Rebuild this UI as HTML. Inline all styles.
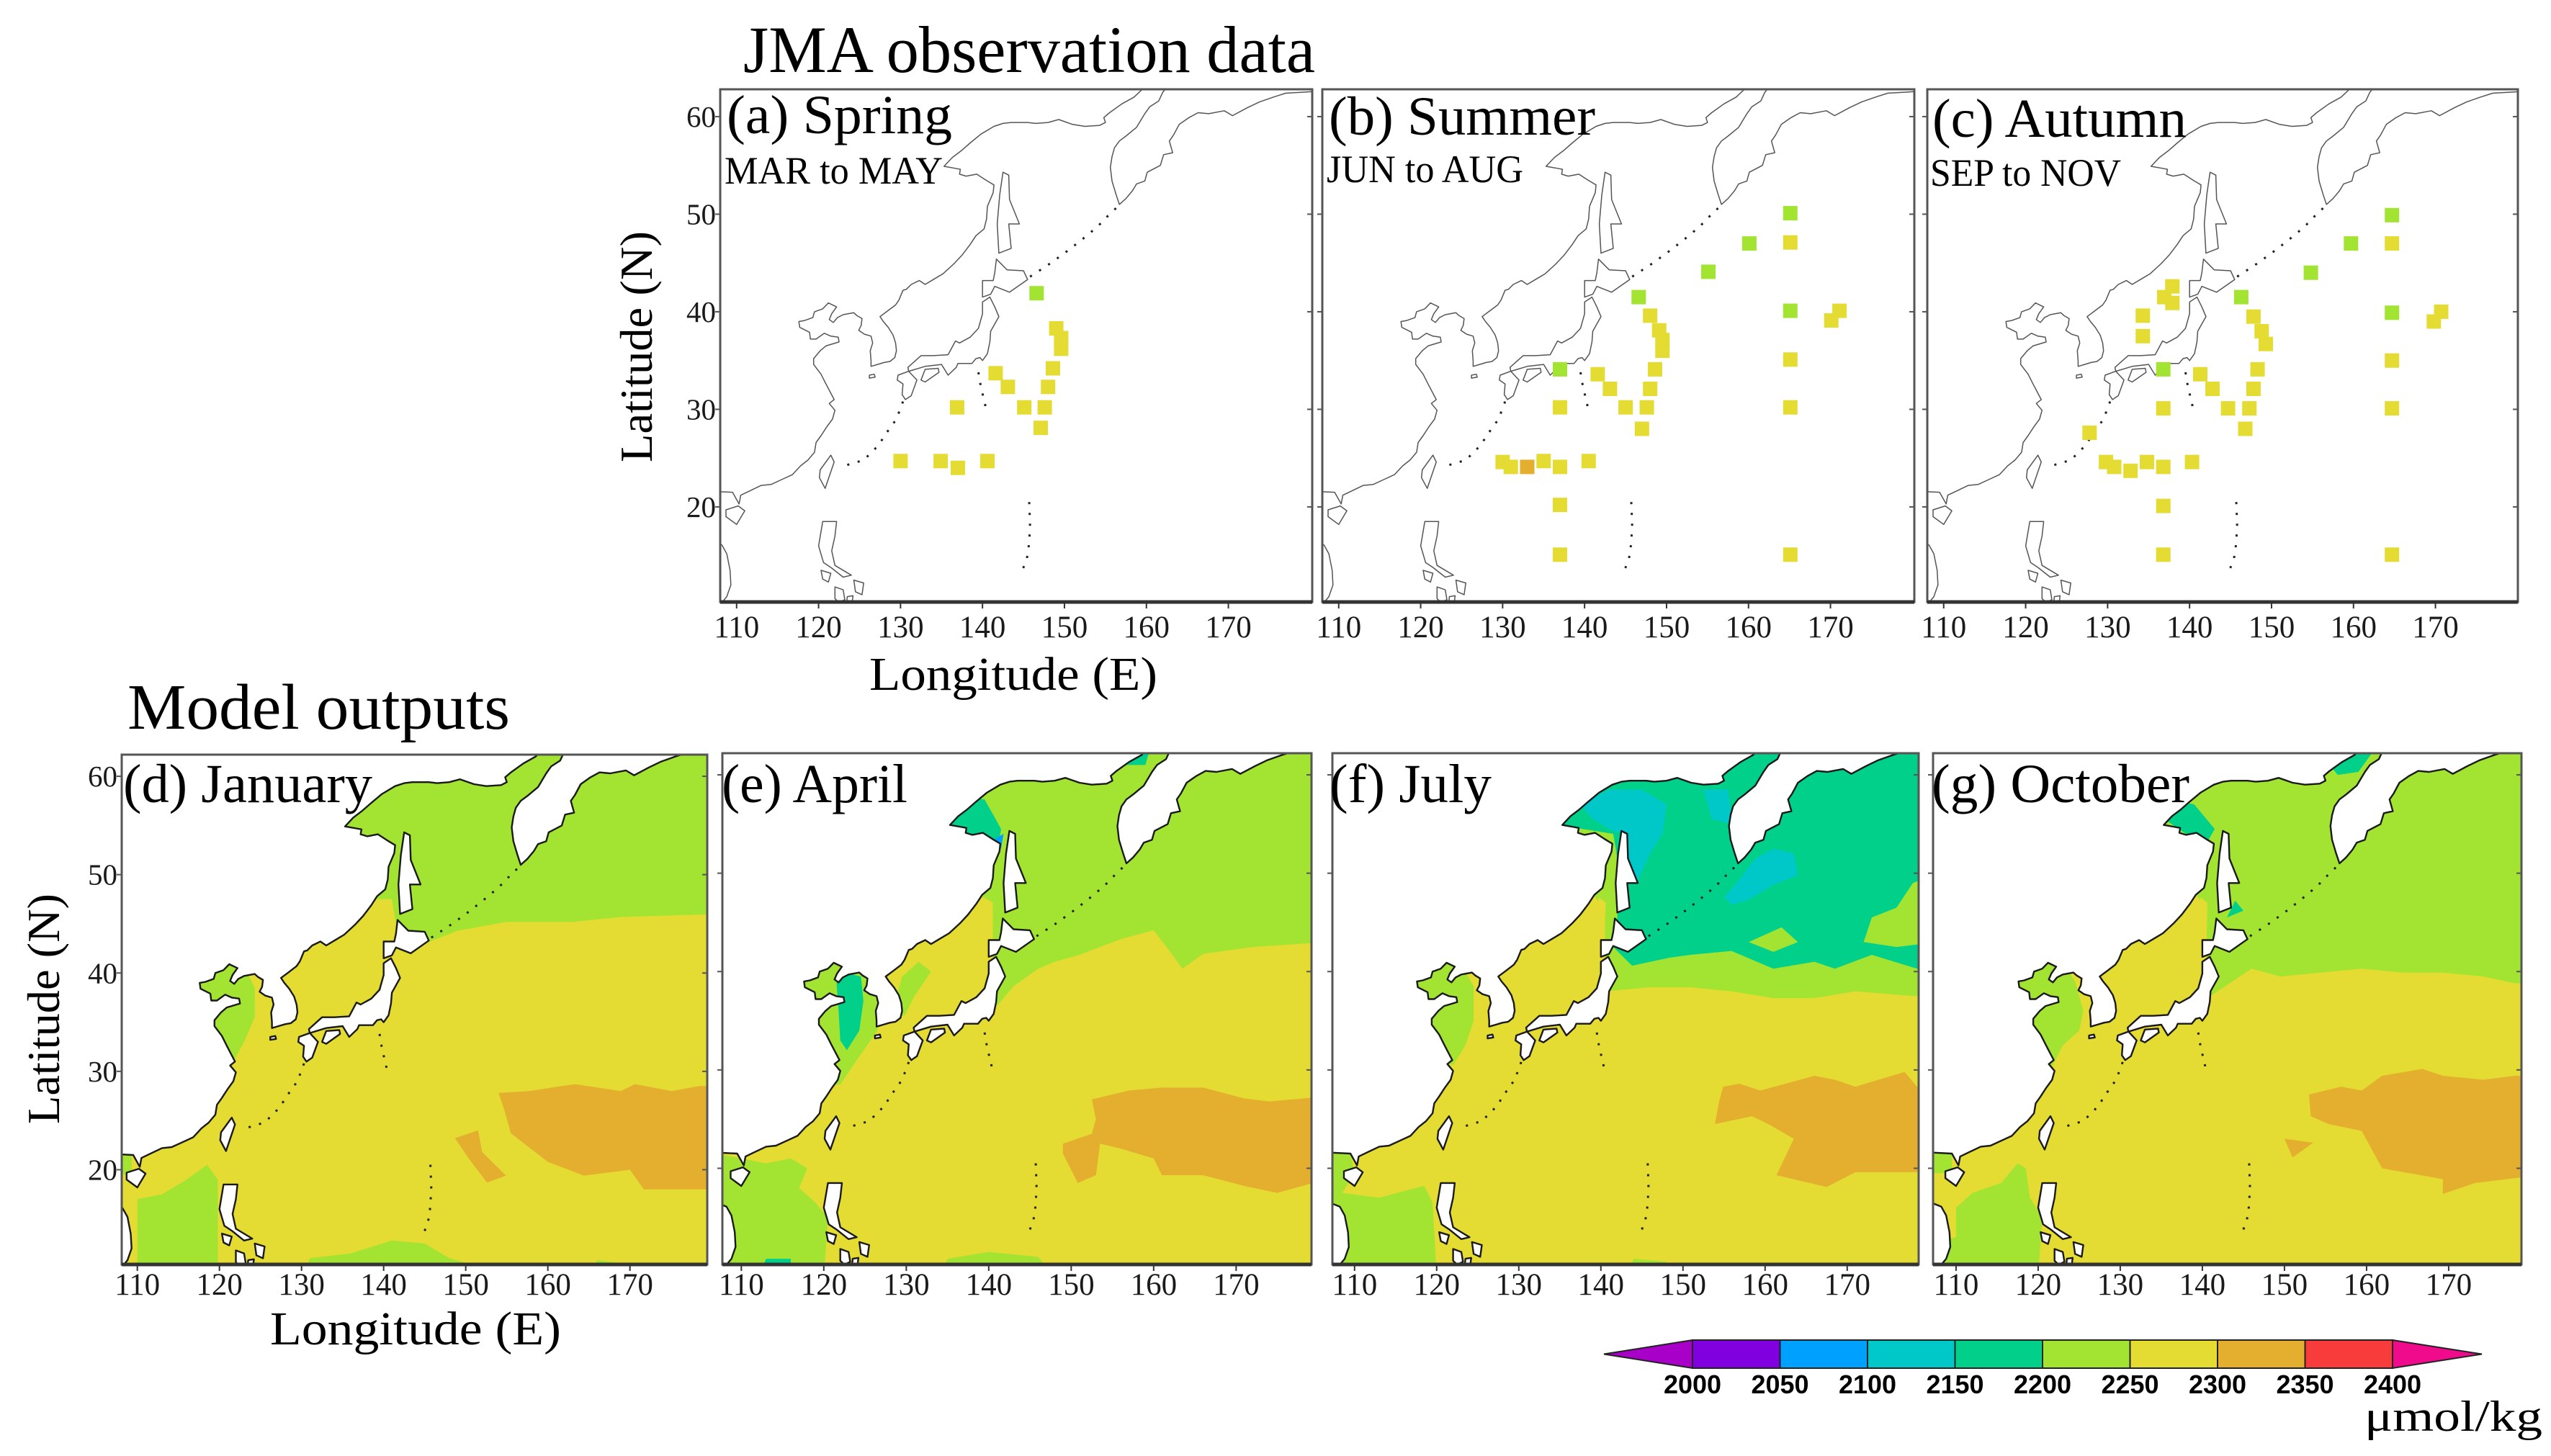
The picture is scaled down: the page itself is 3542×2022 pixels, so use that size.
<!DOCTYPE html>
<html><head><meta charset="utf-8"><title>JMA observation vs Model outputs</title>
<style>html,body{margin:0;padding:0;background:#fff}svg{display:block}</style></head>
<body>
<svg id="fig" width="3542" height="2022" viewBox="0 0 3542 2022" font-family="'Liberation Serif', serif">
<rect x="0" y="0" width="3542" height="2022" fill="#fff"/>
<text x="1032" y="100" font-size="92" textLength="794" lengthAdjust="spacingAndGlyphs">JMA observation data</text>
<text x="177" y="1012" font-size="90" textLength="531" lengthAdjust="spacingAndGlyphs">Model outputs</text>
<text x="1207" y="958" font-size="66" textLength="400" lengthAdjust="spacingAndGlyphs">Longitude (E)</text>
<text x="375" y="1867" font-size="66" textLength="404" lengthAdjust="spacingAndGlyphs">Longitude (E)</text>
<text transform="translate(905,642) rotate(-90)" font-size="64" textLength="321" lengthAdjust="spacingAndGlyphs">Latitude (N)</text>
<text transform="translate(82,1561) rotate(-90)" font-size="64" textLength="320" lengthAdjust="spacingAndGlyphs">Latitude (N)</text>
<g id="maps"></g>
<g id="cbar"></g>
<text x="3283" y="1987" font-size="60" textLength="247" lengthAdjust="spacingAndGlyphs">μmol/kg</text>
</svg>
<script>
// ---- colour scale data ----
const levels = [2000, 2050, 2100, 2150, 2200, 2250, 2300, 2350, 2400];
const levelColors = ["#8000e0", "#00a0ff", "#00c8c8", "#00d08a", "#a3e432", "#e4db33", "#e4ae2e", "#f83c3c"];
const lowColor = "#a800c8";
const highColor = "#f00a8c";

// ---- observation data (lon, lat, value) ----
const springLon = [146.6, 149.0, 149.6, 149.6, 148.6, 148.0, 147.6, 147.1, 145.1, 143.1, 141.6, 136.9, 130.0, 134.9, 137.0, 140.6];
const springLat = [41.9, 38.3, 37.3, 36.2, 34.2, 32.3, 30.2, 28.1, 30.2, 32.3, 33.7, 30.2, 24.7, 24.7, 24.0, 24.7];
const springVal = [2225, 2275, 2275, 2275, 2275, 2275, 2275, 2275, 2275, 2275, 2275, 2275, 2275, 2275, 2275, 2275];

const summerLon = [165.1, 160.1, 165.1, 155.1, 146.6, 165.1, 170.1, 171.1, 148.0, 149.1, 149.5, 149.5, 148.6, 148.0, 147.6, 147.0, 145.0, 143.1, 141.6, 137.0, 137.0, 165.1, 165.1, 130.0, 131.0, 133.0, 135.0, 137.0, 140.5, 137.0, 137.0, 165.1];
const summerLat = [50.1, 47.0, 47.1, 44.1, 41.5, 40.1, 39.1, 40.1, 39.6, 38.1, 37.1, 36.0, 34.1, 32.1, 30.2, 28.0, 30.2, 32.1, 33.6, 34.1, 30.2, 35.1, 30.2, 24.6, 24.1, 24.1, 24.7, 24.1, 24.7, 20.2, 15.1, 15.1];
const summerVal = [2225, 2225, 2275, 2225, 2225, 2225, 2275, 2275, 2275, 2275, 2275, 2275, 2275, 2275, 2275, 2275, 2275, 2275, 2275, 2225, 2275, 2275, 2275, 2275, 2275, 2325, 2275, 2275, 2275, 2275, 2275, 2275];

const autumnLon = [164.7, 159.7, 164.7, 154.8, 146.3, 164.7, 169.8, 170.7, 137.9, 136.9, 137.9, 134.3, 134.3, 147.8, 148.8, 149.3, 148.3, 147.8, 147.3, 146.8, 136.8, 141.3, 142.8, 144.7, 136.8, 164.7, 164.7, 127.8, 129.8, 130.8, 132.8, 134.8, 136.8, 140.3, 136.8, 136.8, 164.7];
const autumnLat = [49.9, 47.0, 47.0, 44.0, 41.5, 39.9, 39.0, 40.0, 42.6, 41.5, 40.9, 39.6, 37.5, 39.5, 38.0, 36.7, 34.1, 32.1, 30.1, 28.0, 34.1, 33.6, 32.1, 30.1, 30.1, 35.0, 30.1, 27.6, 24.6, 24.1, 23.7, 24.6, 24.1, 24.6, 20.1, 15.1, 15.1];
const autumnVal = [2225, 2225, 2275, 2225, 2225, 2225, 2275, 2275, 2275, 2275, 2275, 2275, 2275, 2275, 2275, 2275, 2275, 2275, 2275, 2275, 2225, 2275, 2275, 2275, 2275, 2275, 2275, 2275, 2275, 2275, 2285, 2275, 2275, 2275, 2275, 2275, 2275];

// ---- axis ticks ----
const lonTicks = [110, 120, 130, 140, 150, 160, 170];
const latTicks = [20, 30, 40, 50, 60];

// ---- model field regions: [value, polygon(lon,lat)] ----
const fieldJan = [
 [2225, [[130,64],[130,47.5],[141,47.5],[141.5,45],[145,43],[149,44.3],[155,45.2],[163,45.2],[169,45.7],[181,46],[181,64]]],
 [2225, [[117,41.5],[122.5,41.5],[124.3,38.5],[124.3,35.5],[123,33],[121.7,31],[120,31],[118.5,35],[117,38]]],
 [2225, [[110,17],[113,17.5],[116,19],[118.5,20.5],[119.8,19],[119.8,9],[110,9]]],
 [2225, [[107,21.6],[109.3,21.6],[109.3,19.5],[107,19.5]]],
 [2225, [[130,9],[131,11],[136,11.5],[141,12.8],[145,12.5],[148,11],[151,10.3],[152,9]]],
 [2225, [[165,9],[166,10.8],[169,10.5],[170,9]]],
 [2175, [[113,9],[113.3,10.4],[116.5,10.4],[116.5,9]]],
 [2325, [[154,27.8],[157.7,28],[163.3,28.7],[168.9,28],[170.6,28.7],[175.1,28],[178.4,28.5],[181,28.5],[181,18],[171.7,18],[170,20],[164.4,19.4],[160,20.8],[155.5,23.7],[154.7,26.1]]],
 [2325, [[148.7,23.2],[151.5,24],[152,21.8],[154.9,19.4],[152.6,18.7],[150.4,21.1]]]
];
const fieldApr = [
 [2225, [[128,64],[128,48],[139,48],[140.5,46],[140.5,42],[141,36.5],[143,38.5],[146,40.3],[148,41],[151,41.7],[156,43.3],[160,44.2],[162,42],[163.5,40.3],[166,41.8],[172,42.5],[181,43],[181,64]]],
 [2275, [[128.5,35],[129.5,37],[131,38.5],[133.5,40.5],[136,42.5],[138,44.5],[139.5,47.5],[140.5,47],[140.3,42],[139.5,38.5],[137,37],[134,35.5],[130,34]]],
 [2225, [[128.3,36],[129.5,39.5],[131.5,41],[133,40],[131,37.5],[129.8,35.5]]],
 [2225, [[117,41.5],[122.5,41.5],[125,39.5],[126.5,37],[126.5,34],[124,31],[122,28.5],[121,28.5],[118,35]]],
 [2175, [[121.5,39.3],[123,39.8],[124.5,39.5],[124.8,37],[124.3,34],[122.8,32],[122,33],[121.8,36]]],
 [2175, [[134.5,56],[137,57.8],[139.5,57.5],[141.5,54.5],[141,52],[139,53.5],[136,54.5]]],
 [2075, [[140.8,53.5],[141.8,54],[141.5,52.5]]],
 [2175, [[156,62.5],[159.5,62.5],[159,61],[156.5,61]]],
 [2225, [[107,21.5],[110,21],[113,20.5],[116,21],[118,20],[117,18],[119,16.5],[120.5,15],[120,9],[107,9]]],
 [2175, [[112.5,9.8],[113,10.8],[116,10.8],[116,9.8]]],
 [2225, [[134,9],[135,10.8],[140,11.5],[146,11],[148,9]]],
 [2325, [[152.5,27],[157,27.9],[161,28.2],[166,28.2],[171,27.1],[174,26.8],[181,27.3],[181,18.9],[175,17.5],[171,18.2],[166,19.3],[161,19.3],[160,21],[156,22],[153.5,22.5],[153,19.3],[150.8,18.5],[149,21.5],[149,22.5],[152.5,23.5],[153,25]]]
];
const fieldJul = [
 [2225, [[128,64],[128,48],[139,48],[140.5,46],[140.5,42],[140.8,38],[145.8,38.4],[150.9,38.4],[155.9,38],[161,37.3],[166,37.3],[171,38],[181,37.3],[181,64]]],
 [2275, [[128.5,35],[130.5,38.5],[133,40.7],[136,42.8],[138.5,45],[139.8,47.5],[140.6,47],[140.3,42],[139.5,38.5],[137,37],[134,35.5],[130,34]]],
 [2175, [[142,45.5],[141.8,44],[141.5,42.5],[143.8,40.6],[148.3,41.4],[150.9,41.7],[155.9,42.1],[161,40.3],[166,41],[168.5,40.3],[173,41.7],[178.5,40.3],[181,40.5],[181,64],[134,64],[134,55],[141.5,54],[142.3,50]]],
 [2225, [[172,43],[176,42.5],[181,43],[181,50],[178,49],[176,46.5],[173,45.5]]],
 [2225, [[158,43],[162,44.5],[164,43],[161,42]]],
 [2125, [[137.5,57],[141,58.5],[145,58.5],[148,57],[147.5,54],[146,52],[144.5,49.3],[143.5,51],[143,54],[141.5,54.3],[139,55.5]]],
 [2125, [[152.5,58.5],[155.5,58.5],[156,55],[153.5,55.5]]],
 [2125, [[155,47.5],[157,49.5],[158.8,51.5],[161,52.5],[163.5,52],[164,49.8],[161,48.8],[158,47.3],[156,46.8]]],
 [2225, [[117,41.5],[122.5,41.5],[124.5,38.5],[124.5,35],[123.5,32.5],[122,30.5],[120.5,31],[118,36]]],
 [2225, [[107,21.7],[109.5,21.5],[110,19.5],[108.5,17.5],[113,17],[116.5,17.8],[118.5,18.2],[119.5,16.5],[120,9],[107,9]]],
 [2225, [[143,9],[144,10.8],[148,10.5],[148,9]]],
 [2175, [[112,9],[112,10.3],[116,10.3],[116,9]]],
 [2325, [[154.9,28.3],[156.9,28.6],[159.4,27.9],[162.5,28.6],[166,29.4],[168.5,29],[171,28.3],[177,29.8],[178.5,28.3],[181,28.3],[181,19.6],[171,19.6],[167.5,18.1],[161.4,19.3],[163.5,23],[160.4,24.5],[158.4,25.3],[153.9,24.5],[154.4,26.8]]]
];
const fieldOct = [
 [2225, [[128,64],[128,48],[139,48],[140.5,46.5],[140.6,37.3],[146,40.3],[149.5,39.5],[154.4,39.9],[159.4,40.3],[164.3,39.9],[169.3,39.9],[174.2,39.5],[178.1,38.8],[181,38.8],[181,64]]],
 [2275, [[128.5,35],[131,39],[133,41],[136,43],[138.5,45],[139.8,47.5],[140.6,47],[140.5,42],[139.5,38.5],[137,37],[134,35.5],[130,34]]],
 [2175, [[134.5,56],[136,57.5],[139,57],[141.5,54.5],[140.5,53],[138,54]]],
 [2175, [[155,61.5],[158,62.6],[161,62.6],[159,60.3],[156.5,60]]],
 [2175, [[143,45.5],[145,46.2],[144,47.2]]],
 [2225, [[117,41.5],[122.5,41.5],[124.5,39],[125.5,36],[125,34],[123,32.5],[121.5,30],[120.5,31],[118,36]]],
 [2225, [[110,16],[112,17.5],[115.5,18.5],[117.5,20.5],[118.5,20],[119,17],[120.5,15],[120,9],[107,9],[107,12.5],[110,13]]],
 [2225, [[107,21.6],[109.5,21.6],[109.5,19.5],[107,19.5]]],
 [2175, [[112,9],[112,10.3],[116,10.3],[116,9]]],
 [2325, [[153,27.5],[156.9,28.3],[159.4,27.9],[161.9,29.4],[166.8,30.1],[169.3,29.4],[174.2,29],[178.1,29.4],[181,29.4],[181,19.3],[173.2,18.5],[169.3,17.4],[169.3,18.9],[161.9,20],[159.4,23.8],[155.4,24.5],[153.2,25.3]]],
 [2325, [[150,23],[153.5,22.6],[151,21.1]]]
];

// ---- coastlines (geography, lon/lat) ----
const landMain = [[107,21.6],[109.5,21.5],[110.3,20.3],[110.5,21.2],[111.5,21.6],[113,22.2],[114.2,22.3],[115.5,22.8],[116.8,23.3],[117.8,24.2],[118.7,24.8],[119.5,25.6],[119.7,26.6],[120.3,27.3],[121,28.2],[121.7,29],[122,29.9],[121.3,30.6],[121.9,31],[121.4,31.8],[120.9,32.6],[120.3,33.6],[119.4,34.6],[119.4,35.2],[120.2,36],[120.9,36.5],[122.5,36.9],[122.4,37.4],[121.5,37.5],[120.7,37.8],[119.7,37.2],[119,37.2],[118.9,37.9],[117.7,38.4],[117.6,39],[118.3,39.1],[119.3,39.4],[119.5,40],[120.5,40.3],[121.2,40.9],[122.2,40.5],[121.6,39.8],[121.3,39.2],[121.8,38.9],[122.3,39.4],[123,39.7],[124.3,39.9],[124.7,39.6],[125.3,39.3],[125.2,38.6],[124.9,38.1],[125.6,37.7],[126.4,37.5],[126.6,36.8],[126.3,36],[126.4,35],[126.4,34.4],[127.2,34.6],[128,34.8],[128.7,34.9],[129.3,35.3],[129.5,36],[129.4,36.8],[129.1,37.6],[128.5,38.4],[127.9,39],[127.5,39.5],[128.3,40],[129.4,40.7],[129.8,41.2],[130.3,42.2],[130.7,42.3],[131.3,42.8],[132.3,43.2],[133,42.8],[134,43.3],[135.2,43.9],[136.5,44.9],[137.5,45.8],[138.5,46.9],[139.2,47.8],[140.2,48.5],[140.5,49.5],[140.6,50.8],[141.3,52.2],[141.4,53],[140.4,53.5],[139.3,54.1],[138,53.9],[137.2,54.1],[137.3,54.6],[136.7,54.7],[135.3,54.9],[136.3,55.8],[137.4,56.5],[138.5,57.3],[139.8,58.2],[141.4,59],[142.5,59.3],[143.5,59.4],[145.5,59.4],[146.5,59.3],[148,59.4],[149.3,59.7],[151,59.2],[152.5,59],[154.3,59.1],[155,59.4],[154.8,59.9],[155.5,60.4],[157,61.3],[158.5,62],[159.5,62.8],[160.2,63.5],[163,63.5],[162,62.5],[161.5,61.6],[160.4,61],[159.8,60.3],[158.8,58.9],[157.5,58],[156.7,57.5],[156.1,56.8],[155.8,55.9],[155.6,54.8],[155.8,53.4],[156.3,52],[156.7,51],[157.5,51.6],[158.3,52.4],[158.8,53.1],[159.8,53.4],[160.1,54.3],[161.7,55],[162.1,56.1],[163.2,56.3],[162.8,57.5],[163.3,58.1],[164,59.2],[165.2,59.9],[166.3,60.4],[167.6,60.3],[169.5,60.6],[170.5,60.1],[172.3,60.9],[173.8,61.5],[175.5,62],[177,62.4],[179,62.5],[181,62.6],[181,64],[107,64]];
const islands = [
 [[142,46],[143.5,46.5],[143.2,49],[144.5,49],[143.3,51.5],[143.2,54],[142.5,54.3],[142.1,52],[141.8,49],[142,46]],
 [[140,41.5],[141,41.8],[141.5,42.6],[143.3,42],[145.5,43.3],[145,44.2],[143,44.3],[141.7,45.4],[141.5,44],[141.3,43.2],[140,43.2]],
 [[140.9,41.5],[141.5,40.5],[142,39.5],[141,38],[140.9,36.9],[140.6,35.7],[140,35],[139.7,35.3],[139.2,35.2],[138.7,34.7],[137,34.7],[136.8,34.3],[135.8,33.5],[135,34.6],[133,34.4],[131,33.9],[130.9,34.3],[132.5,35.5],[134,35.5],[135.8,35.6],[136.7,37],[137.2,36.8],[138.5,37.4],[139.5,38.3],[140,39.8],[140,41]],
 [[132.5,33],[133,32.8],[134.7,33.8],[134.6,34.2],[133,34.1]],
 [[129.7,33.5],[131,33.9],[132,33],[131.3,31.4],[130.6,31],[130.2,31.5],[130.3,32.6],[129.6,33]],
 [[120.1,23],[120.8,21.9],[121.9,24.6],[121.5,25.3],[120.2,23.8]],
 [[108.7,19],[110,18.2],[111,19.6],[110.2,20.1],[108.7,19.7]],
 [[120.5,18.5],[122.2,18.5],[122,17],[121.6,15.5],[122,14],[124,13],[123,12.8],[121.5,13.8],[120.6,14.3],[120,16]],
 [[120.3,13.5],[121.5,13.2],[121.2,12.3],[120.5,12.6]],
 [[122,11.8],[123,11.5],[123.2,10.5],[122.5,10.2],[122,10.6]],
 [[124.3,12.5],[125.5,12.2],[125.3,11],[124.5,11.3]],
 [[123.5,10.8],[124.2,10.9],[124,9.5],[123.4,9.8]],
 [[107,9],[108.8,10.8],[109.3,12],[109.2,13.5],[108.8,15.2],[108.2,16.1],[107,16.5]],
 [[126.2,33.2],[126.9,33.3],[126.8,33.6],[126.2,33.5]]
];
const dotChains = [
 [[145.8,43.6],[148,44.8],[150,46],[152,47.3],[154,48.7],[155.5,50],[156.4,50.7]],
 [[130.3,30.8],[129.5,29],[128.3,27.6],[127.3,26.3],[125.5,24.8],[123.5,24.3]],
 [[139.5,33.8],[139.8,32.3],[140.3,30.6],[140.5,29.5]],
 [[145.7,20.5],[145.8,18.3],[145.7,16.3],[145.4,14.6],[144.8,13.4]]
];

const svg = document.getElementById('fig');
const NS = svg.namespaceURI;
function mk(tag, parent) { const e = document.createElementNS(NS, tag); parent.appendChild(e); return e; }
function named(e, n) {
  
  
}
function colorFor(v) {
  if (v < levels[0]) return lowColor;
  if (v >= levels[levels.length - 1]) return highColor;
  for (let i = 0; i < levels.length - 1; i++) if (v >= levels[i] && v < levels[i + 1]) return levelColors[i];
  return highColor;
}

const panels = [
 {id:'a', x0:1000, w:822, y0:124, h:712, lon0:108.0, lat0:62.8, sx:11.38, sy:13.55, title:'(a) Spring', sub:'MAR to MAY', tx:1009, ty:185, tl:313, sy2:255, sl:303, lonArr:springLon, latArr:springLat, valArr:springVal, latLabels:true, lonY:885},
 {id:'b', x0:1836, w:822, y0:124, h:712, lon0:108.0, lat0:62.8, sx:11.38, sy:13.55, title:'(b) Summer', sub:'JUN to AUG', tx:1845, ty:187, tl:370, sy2:253, sl:273, lonArr:summerLon, latArr:summerLat, valArr:summerVal, latLabels:false, lonY:885},
 {id:'c', x0:2676, w:820, y0:124, h:712, lon0:108.0, lat0:62.8, sx:11.38, sy:13.55, title:'(c) Autumn', sub:'SEP to NOV', tx:2683, ty:190, tl:353, sy2:258, sl:265, lonArr:autumnLon, latArr:autumnLat, valArr:autumnVal, latLabels:false, lonY:885},
 {id:'d', x0:169, w:813, y0:1048, h:708, lon0:108.1, lat0:62.2, sx:11.4, sy:13.66, title:'(d) January', tx:171, ty:1114, tl:346, field:fieldJan, latLabels:true, lonY:1798},
 {id:'e', x0:1003, w:818, y0:1046, h:710, lon0:107.7, lat0:62.2, sx:11.45, sy:13.66, title:'(e) April', tx:1002, ty:1114, tl:258, field:fieldApr, latLabels:false, lonY:1798},
 {id:'f', x0:1850, w:814, y0:1046, h:710, lon0:107.3, lat0:62.2, sx:11.4, sy:13.66, title:'(f) July', tx:1846, ty:1114, tl:225, field:fieldJul, latLabels:false, lonY:1798},
 {id:'g', x0:2684, w:817, y0:1046, h:710, lon0:107.2, lat0:62.2, sx:11.4, sy:13.66, title:'(g) October', tx:2682, ty:1114, tl:358, field:fieldOct, latLabels:false, lonY:1798}
];

const maps = document.getElementById('maps');
const defs = mk('defs', svg);
panels.forEach(p => {
  const X = lon => p.x0 + (lon - p.lon0) * p.sx;
  const Y = lat => p.y0 + (p.lat0 - lat) * p.sy;
  const pts = arr => arr.map(q => X(q[0]).toFixed(1) + ',' + Y(q[1]).toFixed(1)).join(' ');
  const cp = mk('clipPath', defs); cp.setAttribute('id', 'clip-' + p.id);
  const cr = mk('rect', cp); cr.setAttribute('x', p.x0); cr.setAttribute('y', p.y0); cr.setAttribute('width', p.w); cr.setAttribute('height', p.h);

  const g = mk('g', maps);
  named(g, 'panel-' + p.id);
  const inner = mk('g', g);
  inner.setAttribute('clip-path', 'url(#clip-' + p.id + ')');
  named(inner, 'map-area-' + p.id);

  const bg = mk('rect', inner);
  named(bg, 'ocean-' + p.id);
  bg.setAttribute('x', p.x0); bg.setAttribute('y', p.y0); bg.setAttribute('width', p.w); bg.setAttribute('height', p.h);
  bg.setAttribute('fill', p.field ? colorFor(2275) : '#fff');

  if (p.field) {
    p.field.forEach((f, i) => {
      const pg = mk('polygon', inner);
      named(pg, 'field-region');
      pg.setAttribute('points', pts(f[1]));
      pg.setAttribute('fill', colorFor(f[0]));
    });
  }
  const lw = p.field ? 2.4 : 1.5;
  const lc = p.field ? '#1a1a1a' : '#555';
  const land = mk('polygon', inner);
  named(land, 'mainland');
  land.setAttribute('points', pts(landMain));
  land.setAttribute('fill', '#fff'); land.setAttribute('stroke', lc); land.setAttribute('stroke-width', lw); land.setAttribute('stroke-linejoin', 'round');
  islands.forEach(isl => {
    const ip = mk('polygon', inner);
    named(ip, 'island');
    ip.setAttribute('points', pts(isl));
    ip.setAttribute('fill', '#fff'); ip.setAttribute('stroke', lc); ip.setAttribute('stroke-width', lw); ip.setAttribute('stroke-linejoin', 'round');
  });
  dotChains.forEach(ch => {
    const pl = mk('polyline', inner);
    named(pl, 'island-chain');
    pl.setAttribute('points', pts(ch));
    pl.setAttribute('fill', 'none'); pl.setAttribute('stroke', '#222'); pl.setAttribute('stroke-width', 3);
    pl.setAttribute('stroke-dasharray', '3 12');
  });

  if (p.lonArr) {
    for (let i = 0; i < p.lonArr.length; i++) {
      const m = mk('rect', inner);
      named(m, 'obs-marker');
      m.setAttribute('x', (X(p.lonArr[i]) - 10).toFixed(1));
      m.setAttribute('y', (Y(p.latArr[i]) - 10).toFixed(1));
      m.setAttribute('width', 20); m.setAttribute('height', 20);
      m.setAttribute('fill', colorFor(p.valArr[i]));
    }
  }

  const fr = mk('rect', g);
  named(fr, 'frame-' + p.id);
  fr.setAttribute('x', p.x0); fr.setAttribute('y', p.y0); fr.setAttribute('width', p.w); fr.setAttribute('height', p.h);
  fr.setAttribute('fill', 'none'); fr.setAttribute('stroke', '#555'); fr.setAttribute('stroke-width', 3);
  const bl = mk('line', g);
  named(bl, 'bottom-axis-' + p.id);
  bl.setAttribute('x1', p.x0); bl.setAttribute('x2', p.x0 + p.w); bl.setAttribute('y1', p.y0 + p.h); bl.setAttribute('y2', p.y0 + p.h);
  bl.setAttribute('stroke', '#333'); bl.setAttribute('stroke-width', 5);

  lonTicks.forEach(t => {
    const tk = mk('line', g);
    named(tk, 'lon-tick');
    tk.setAttribute('x1', X(t)); tk.setAttribute('x2', X(t)); tk.setAttribute('y1', p.y0 + p.h); tk.setAttribute('y2', p.y0 + p.h + 9);
    tk.setAttribute('stroke', '#333'); tk.setAttribute('stroke-width', 2);
    const tl = mk('text', g);
    named(tl, 'lon-tick-label');
    tl.setAttribute('x', X(t)); tl.setAttribute('y', p.lonY);
    tl.setAttribute('font-size', 43); tl.setAttribute('text-anchor', 'middle'); tl.setAttribute('fill', '#1a1a1a');
    tl.textContent = String(t);
  });
  latTicks.forEach(t => {
    const tk = mk('line', g);
    named(tk, 'lat-tick');
    tk.setAttribute('x1', p.x0 - 7); tk.setAttribute('x2', p.x0); tk.setAttribute('y1', Y(t)); tk.setAttribute('y2', Y(t));
    tk.setAttribute('stroke', '#555'); tk.setAttribute('stroke-width', 2);
    const tr = mk('line', g);
    named(tr, 'lat-tick-right');
    tr.setAttribute('x1', p.x0 + p.w - 7); tr.setAttribute('x2', p.x0 + p.w); tr.setAttribute('y1', Y(t)); tr.setAttribute('y2', Y(t));
    tr.setAttribute('stroke', '#555'); tr.setAttribute('stroke-width', 2);
    if (p.latLabels) {
      const tl = mk('text', g);
      named(tl, 'lat-tick-label');
      tl.setAttribute('x', p.x0 - 6); tl.setAttribute('y', Y(t) + 14);
      tl.setAttribute('font-size', 41); tl.setAttribute('text-anchor', 'end'); tl.setAttribute('fill', '#1a1a1a');
      tl.textContent = String(t);
    }
  });

  const tt = mk('text', g);
  named(tt, 'panel-title-' + p.id);
  tt.setAttribute('x', p.tx); tt.setAttribute('y', p.ty);
  tt.setAttribute('font-size', 76); tt.setAttribute('textLength', p.tl); tt.setAttribute('lengthAdjust', 'spacingAndGlyphs');
  tt.textContent = p.title;
  if (p.sub) {
    const st = mk('text', g);
    named(st, 'panel-subtitle-' + p.id);
    st.setAttribute('x', p.tx - 3); st.setAttribute('y', p.sy2);
    st.setAttribute('font-size', 54); st.setAttribute('textLength', p.sl); st.setAttribute('lengthAdjust', 'spacingAndGlyphs');
    st.textContent = p.sub;
  }
});

// ---- colorbar ----
const cb = document.getElementById('cbar');
const cbX0 = 2350, cbX1 = 3322, cbY0 = 1861, cbY1 = 1900, tipL = 2227, tipR = 3446;
const cbX = v => cbX0 + (v - levels[0]) / (levels[levels.length - 1] - levels[0]) * (cbX1 - cbX0);
const lt = mk('polygon', cb);
named(lt, 'colorbar-low-arrow');
lt.setAttribute('points', cbX0 + ',' + cbY0 + ' ' + tipL + ',' + (cbY0 + cbY1) / 2 + ' ' + cbX0 + ',' + cbY1);
lt.setAttribute('fill', lowColor); lt.setAttribute('stroke', '#222'); lt.setAttribute('stroke-width', 2);
const rt = mk('polygon', cb);
named(rt, 'colorbar-high-arrow');
rt.setAttribute('points', cbX1 + ',' + cbY0 + ' ' + tipR + ',' + (cbY0 + cbY1) / 2 + ' ' + cbX1 + ',' + cbY1);
rt.setAttribute('fill', highColor); rt.setAttribute('stroke', '#222'); rt.setAttribute('stroke-width', 2);
for (let i = 0; i < levelColors.length; i++) {
  const r = mk('rect', cb);
  named(r, 'colorbar-bin');
  r.setAttribute('x', cbX(levels[i])); r.setAttribute('y', cbY0);
  r.setAttribute('width', cbX(levels[i + 1]) - cbX(levels[i])); r.setAttribute('height', cbY1 - cbY0);
  r.setAttribute('fill', levelColors[i]); r.setAttribute('stroke', '#222'); r.setAttribute('stroke-width', 2);
}
levels.forEach(v => {
  const t = mk('text', cb);
  named(t, 'colorbar-label');
  t.setAttribute('x', cbX(v)); t.setAttribute('y', 1935);
  t.setAttribute('font-size', 36); t.setAttribute('text-anchor', 'middle');
  t.setAttribute('font-family', "'Liberation Sans', sans-serif"); t.setAttribute('font-weight', 'bold');
  t.setAttribute('textLength', 80); t.setAttribute('lengthAdjust', 'spacingAndGlyphs');
  t.textContent = String(v);
});
</script>
</body></html>
